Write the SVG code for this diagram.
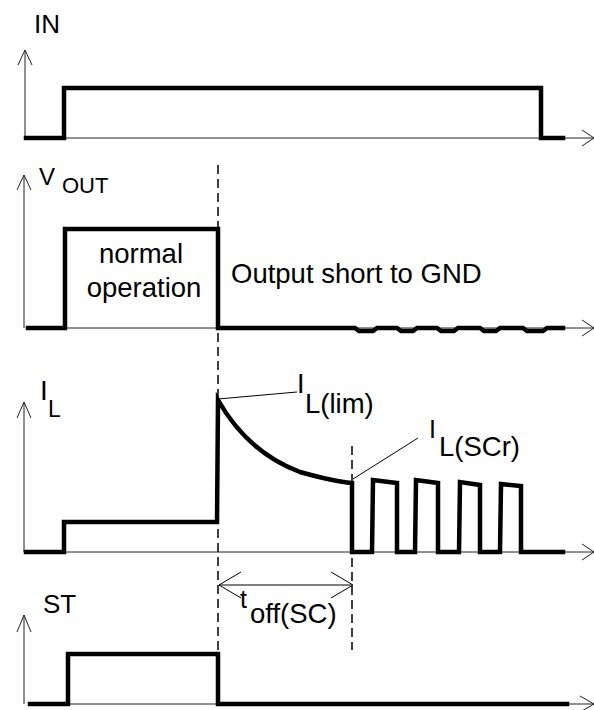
<svg xmlns="http://www.w3.org/2000/svg" width="594" height="710" viewBox="0 0 594 710">
<style>
.sig{fill:none;stroke:#000;stroke-width:4.5;stroke-linejoin:miter;stroke-linecap:square}
.ax{fill:none;stroke:#222;stroke-width:1}
.dash{fill:none;stroke:#000;stroke-width:1.5;stroke-dasharray:9 5}
.thin{fill:none;stroke:#000;stroke-width:1}
.t{font-family:"Liberation Sans",Arial,sans-serif;fill:#000}
.ann{font-size:27.5px}
</style>
<rect width="594" height="710" fill="#fff"/>
<g id="in">
<path class="ax" d="M25,138V50M18,65L25,50L32,65"/>
<path class="ax" d="M64,138H594M582,130L594,138L582,146"/>
<path class="sig" d="M26,138H64V88H541V138H563"/>
<text class="t" x="34" y="33" font-size="26">IN</text>
</g>
<g id="vout">
<path class="ax" d="M24,328V175M17,190L24,175L31,190"/>
<path class="ax" d="M65,328H594M582,320L594,328L582,336"/>
<path class="sig" d="M28,328H65V229H218V328H355L359,331H373L377,328H397L401,331H413L417,328H437L441,331H454L458,328H480L484,331H496L500,328H523L527,331H543L547,328H563"/>
<text class="t" x="39" y="185" font-size="24">V</text>
<text class="t" x="62" y="193" font-size="22">OUT</text>
<text class="t ann" x="141" y="263" text-anchor="middle">normal</text>
<text class="t ann" x="144" y="297" text-anchor="middle">operation</text>
<text class="t ann" x="231" y="283">Output short to GND</text>
</g>
<g id="il">
<path class="ax" d="M24,552V402M17,418L24,402L31,418"/>
<path class="ax" d="M64,552H594M582,544L594,552L582,560"/>
<path class="sig" d="M26,552H64V522H217L218,400C235,430 260,457 300,472C325,479 340,482 352,483V552H372L373,480L397,483V552H415L416,480L438,483V552H459L460,482L480,485V552H500L501,484L521,486V552H563"/>
<text class="t" x="40" y="400" font-size="28">I</text>
<text class="t" x="48" y="417" font-size="23">L</text>
<text class="t" x="297" y="393" font-size="27">I</text>
<text class="t ann" x="305" y="413">L(lim)</text>
<text class="t" x="429" y="438" font-size="25">I</text>
<text class="t ann" x="439" y="456">L(SCr)</text>
</g>
<g id="st">
<path class="ax" d="M24,704V615M17,632L24,615L31,632"/>
<path class="ax" d="M68,704H594M580,696L594,704L580,712"/>
<path class="sig" d="M30,704H68V654H218V704H567"/>
<text class="t" x="43" y="613" font-size="26">ST</text>
<text class="t" x="240" y="608" font-size="25">t</text>
<text class="t ann" x="250" y="623">off(SC)</text>
</g>
<g id="connectors">
<path class="dash" d="M218,165V707"/>
<path class="dash" d="M352,446V650"/>
<path class="thin" d="M218,399L297,392"/>
<path class="thin" d="M353,479L418,438"/>
<path class="thin" d="M219,585H352M241,572L219,585L241,598M331,572L353,585L331,598" stroke-width="1.5"/>
</g>
</svg>
